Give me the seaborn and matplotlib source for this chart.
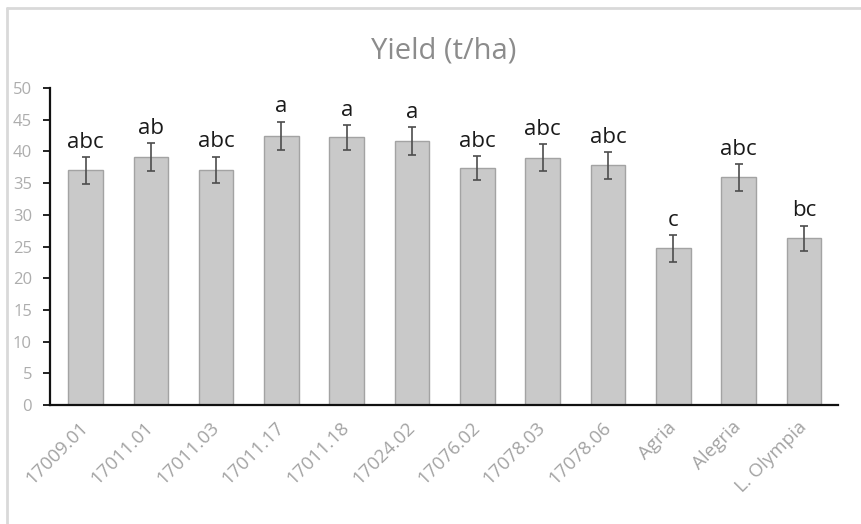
import matplotlib
matplotlib.use("Agg")
import matplotlib.pyplot as plt
from matplotlib.lines import Line2D
import seaborn as sns
import pandas as pd

# Mean yield per genotype with standard error and significance groups
genotypes = ["17009.01", "17011.01", "17011.03", "17011.17", "17011.18", "17024.02",
             "17076.02", "17078.03", "17078.06", "Agria", "Alegria", "L. Olympia"]
yield_mean = [37.0, 39.1, 37.1, 42.5, 42.2, 41.7, 37.4, 39.0, 37.8, 24.7, 35.9, 26.3]
yield_se = [2.1, 2.2, 2.1, 2.2, 1.9, 2.2, 1.9, 2.1, 2.1, 2.1, 2.1, 2.0]
groups = ["abc", "ab", "abc", "a", "a", "a", "abc", "abc", "abc", "c", "abc", "bc"]
y_ticks = list(range(0, 51, 5))

df = pd.DataFrame({"genotype": genotypes, "yield": yield_mean, "se": yield_se, "group": groups})

sns.set_theme(style="white")
plt.rcParams["font.family"] = ["Open Sans", "DejaVu Sans"]

fig = plt.figure(figsize=(8.62, 5.24), dpi=100)
ax = fig.add_axes([0.058, 0.227, 0.914, 0.605])

sns.barplot(data=df, x="genotype", y="yield", errorbar=None, color="#c9c9c9",
            saturation=1, width=0.53, edgecolor="#a3a3a3", linewidth=1.0, ax=ax)

ax.errorbar(range(len(df)), df["yield"], yerr=df["se"], fmt="none",
            ecolor="#4d4d4d", elinewidth=1.2, capsize=3, capthick=1.2, zorder=3)

for i, row in df.iterrows():
    ax.annotate(row["group"], (i, row["yield"] + row["se"]), xytext=(0, 3),
                textcoords="offset points", ha="center", va="bottom",
                fontsize=16, color="#1a1a1a")

ax.set_ylim(0, 50)
ax.set_xlim(-0.545, 11.52)
ax.set_yticks(y_ticks)
ax.set_xlabel("")
ax.set_ylabel("")
ax.set_title("Yield (t/ha)", fontsize=21, color="#8c8c8c", pad=21)

for side in ("top", "right"):
    ax.spines[side].set_visible(False)
for side in ("left", "bottom"):
    ax.spines[side].set_color("#111111")
    ax.spines[side].set_linewidth(1.6)

ax.tick_params(axis="y", direction="out", length=5, width=1.3, color="#111111",
               labelsize=12, labelcolor="#adadad", pad=8, left=True)
ax.tick_params(axis="x", length=0, labelsize=13.5, labelcolor="#a3a3a3", pad=14)
plt.setp(ax.get_xticklabels(), rotation=45, ha="right", va="center", rotation_mode="anchor")

# light frame around the chart area
fig.add_artist(Line2D([0.008, 1.0], [0.985, 0.985], transform=fig.transFigure,
                      color="#d9d9d9", linewidth=2))
fig.add_artist(Line2D([0.008, 0.008], [0.0, 0.985], transform=fig.transFigure,
                      color="#d9d9d9", linewidth=2))

fig.savefig("out.png", dpi=100)
